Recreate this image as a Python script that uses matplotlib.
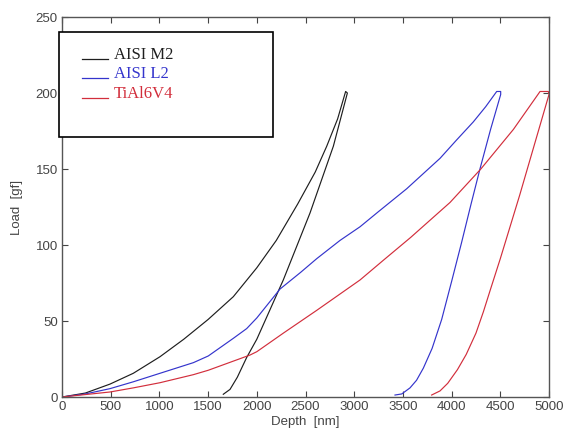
import numpy as np
import matplotlib.pyplot as plt
from matplotlib.patches import Rectangle
from matplotlib.lines import Line2D

# loading / unloading curves (depth in nm, load in gf)
m2_depth = [0, 240, 493, 732, 1006, 1250, 1500, 1759, 2000, 2200, 2420, 2600, 2718, 2830, 2912,
            2930, 2786, 2546, 2272, 2000, 1896, 1800, 1725, 1656]
m2_load = [0, 2.6, 8.5, 15.6, 26.5, 38, 51, 66, 85, 103, 127, 148, 165, 183, 201,
           200, 165, 121, 77, 38, 26, 13, 5, 1.8]

l2_depth = [0, 240, 493, 732, 1006, 1349, 1502, 1759, 1896, 2000, 2238, 2450, 2615, 2854, 3060,
            3250, 3539, 3727, 3881, 4050, 4223, 4350, 4463, 4504,
            4504, 4400, 4291, 4200, 4100, 4000, 3898, 3800, 3710, 3640, 3573, 3488, 3419]
l2_load = [0, 2, 5.5, 10, 15.6, 22.6, 27, 38.6, 45, 52, 71, 82, 91, 103, 112,
           122, 137, 148, 157, 169, 181, 191, 201, 201,
           199, 176, 150, 127, 101, 76, 51, 32, 19, 11, 6, 2, 1.3]

ti_depth = [0, 240, 493, 732, 1006, 1349, 1502, 1930, 2000, 2272, 2615, 3060, 3300, 3580,
            3984, 4300, 4634, 4908, 4993,
            5000, 4900, 4800, 4700, 4600, 4500, 4400, 4326, 4250, 4150, 4060, 3960, 3881, 3795]
ti_load = [0, 1.6, 3.3, 6, 9.4, 14.7, 17.6, 27.6, 29.8, 42, 57, 77, 90, 105,
           128, 150, 176, 201, 201,
           199, 177, 155, 133, 112, 91, 71, 56, 42, 28, 18, 9, 4, 1.3]

names = ['AISI M2', 'AISI L2', 'TiAl6V4']
colors = ['#1e1e1e', '#3434cc', '#d22e3c']

fig = plt.figure(figsize=(5.64, 4.36), dpi=100)
ax = fig.add_axes([62 / 564, 39 / 436, 487 / 564, 380 / 436])

for d, l, c in zip([m2_depth, l2_depth, ti_depth], [m2_load, l2_load, ti_load], colors):
    ax.plot(d, l, color=c, lw=0.85)

ax.set_xlim(0, 5000)
ax.set_ylim(0, 250)
ax.set_xticks(np.arange(0, 5001, 500))
ax.set_yticks(np.arange(0, 251, 50))
ax.tick_params(direction='in', top=True, right=True, length=4, width=0.8,
               labelsize=9.5, colors='#444444', pad=3)
for s in ax.spines.values():
    s.set_color('#555555')
    s.set_linewidth(1)
ax.set_xlabel('Depth  [nm]', fontsize=9.5, color='#444444', labelpad=2)
ax.set_ylabel('Load  [gf]', fontsize=9.5, color='#444444', labelpad=9)
for t in ax.get_xticklabels() + ax.get_yticklabels():
    t.set_family('Liberation Sans')
ax.xaxis.label.set_family('Liberation Sans')
ax.yaxis.label.set_family('Liberation Sans')

# legend drawn as a plain box with underscore-style keys
H = 436
fig.patches.append(Rectangle((59 / 564, 1 - 137 / H), 214 / 564, 105 / H,
                             transform=fig.transFigure, facecolor='white',
                             edgecolor='black', lw=1.2, zorder=5))
for i, (n, c) in enumerate(zip(names, colors)):
    yb = 1 - (59 + i * 19.5) / H
    fig.add_artist(Line2D([82 / 564, 108 / 564], [yb, yb], color=c, lw=0.9,
                          transform=fig.transFigure, zorder=6))
    fig.text(114 / 564, yb, n, color=c, fontsize=12, family='Liberation Serif',
             va='baseline', zorder=6)

fig.savefig('out.png', dpi=100)
